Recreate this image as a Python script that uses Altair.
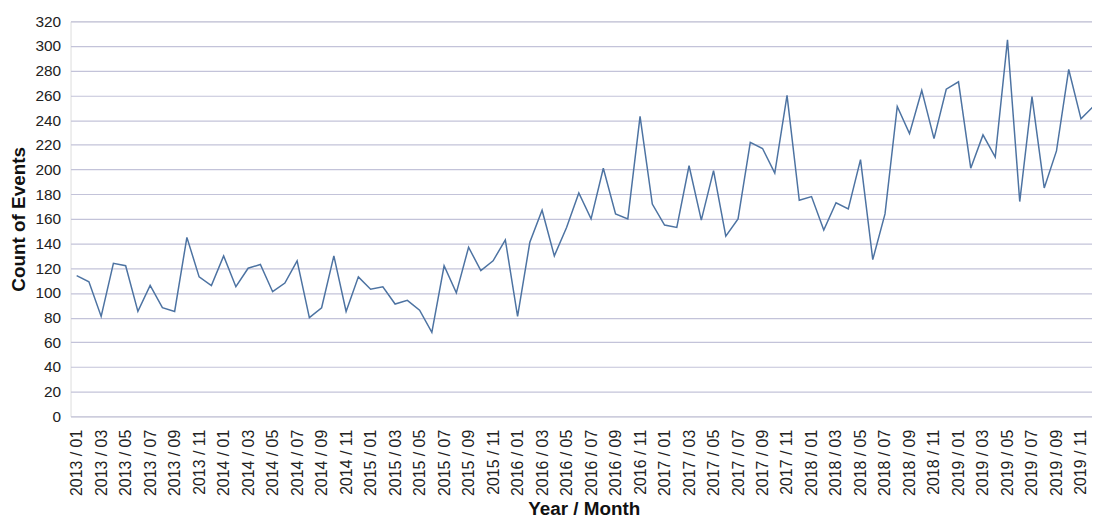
import json
import altair as alt
import pandas as pd

years = [2013, 2014, 2015, 2016, 2017, 2018, 2019]
months = ["01", "02", "03", "04", "05", "06", "07", "08", "09", "10", "11", "12"]
month_labels = [f"{y} / {m}" for y in years for m in months]

counts = [
    114, 109, 81, 124, 122, 85, 106, 88, 85, 145, 113, 106,
    130, 105, 120, 123, 101, 108, 126, 80, 88, 130, 85, 113,
    103, 105, 91, 94, 86, 68, 122, 100, 137, 118, 126, 143,
    81, 141, 167, 130, 153, 181, 160, 201, 164, 160, 243, 172,
    155, 153, 203, 159, 199, 146, 160, 222, 217, 197, 260, 175,
    178, 151, 173, 168, 208, 127, 164, 251, 229, 264, 225, 265,
    271, 201, 228, 210, 305, 174, 259, 185, 215, 281, 241, 251,
]

y_ticks = list(range(0, 321, 20))
x_ticks = list(range(0, len(month_labels), 2))

df = pd.DataFrame({"idx": list(range(len(counts))), "label": month_labels, "count": counts})

font = "Liberation Sans"
label_expr = json.dumps(month_labels) + "[datum.value]"

chart = (
    alt.Chart(df)
    .mark_line(color="#4d73a2", strokeWidth=1.5, clip=True)
    .encode(
        x=alt.X(
            "idx:Q",
            scale=alt.Scale(domain=[-0.5, 82.9], nice=False, zero=False),
            axis=alt.Axis(
                title="Year / Month",
                values=x_ticks,
                labelExpr=label_expr,
                labelAngle=-90,
                labelPadding=13,
                labelFontSize=16,
                labelFont=font,
                labelColor="#222222",
                labelOverlap=False,
                labelFlush=False,
                grid=False,
                ticks=False,
                domain=False,
                titleFont=font,
                titleFontSize=19,
                titleFontWeight="bold",
                titleColor="#111111",
                titleX=517,
                titleY=99,
                titleBaseline="alphabetic",
                titleAlign="center",
            ),
        ),
        y=alt.Y(
            "count:Q",
            scale=alt.Scale(domain=[0, 320], nice=False),
            axis=alt.Axis(
                title="Count of Events",
                values=y_ticks,
                labelPadding=10,
                labelFontSize=15.5,
                labelFont=font,
                labelColor="#222222",
                ticks=False,
                domain=False,
                grid=True,
                gridColor="#c3c3d9",
                gridWidth=1.2,
                gridOpacity=1,
                titleFont=font,
                titleFontSize=19,
                titleFontWeight="bold",
                titleColor="#111111",
                titleX=-46,
                titleY=199,
                titleBaseline="alphabetic",
                titleAlign="center",
                titleAngle=270,
            ),
        ),
    )
    .properties(
        width=1029,
        height=398,
        autosize=alt.AutoSizeParams(type="none"),
        padding={"left": 63, "top": 11.5, "right": 0, "bottom": 104},
    )
    .configure_view(fill="#eeeef3", stroke=None)
    .configure(background="white")
)

chart.save("out.html", embed_options={"renderer": "svg", "actions": False})
